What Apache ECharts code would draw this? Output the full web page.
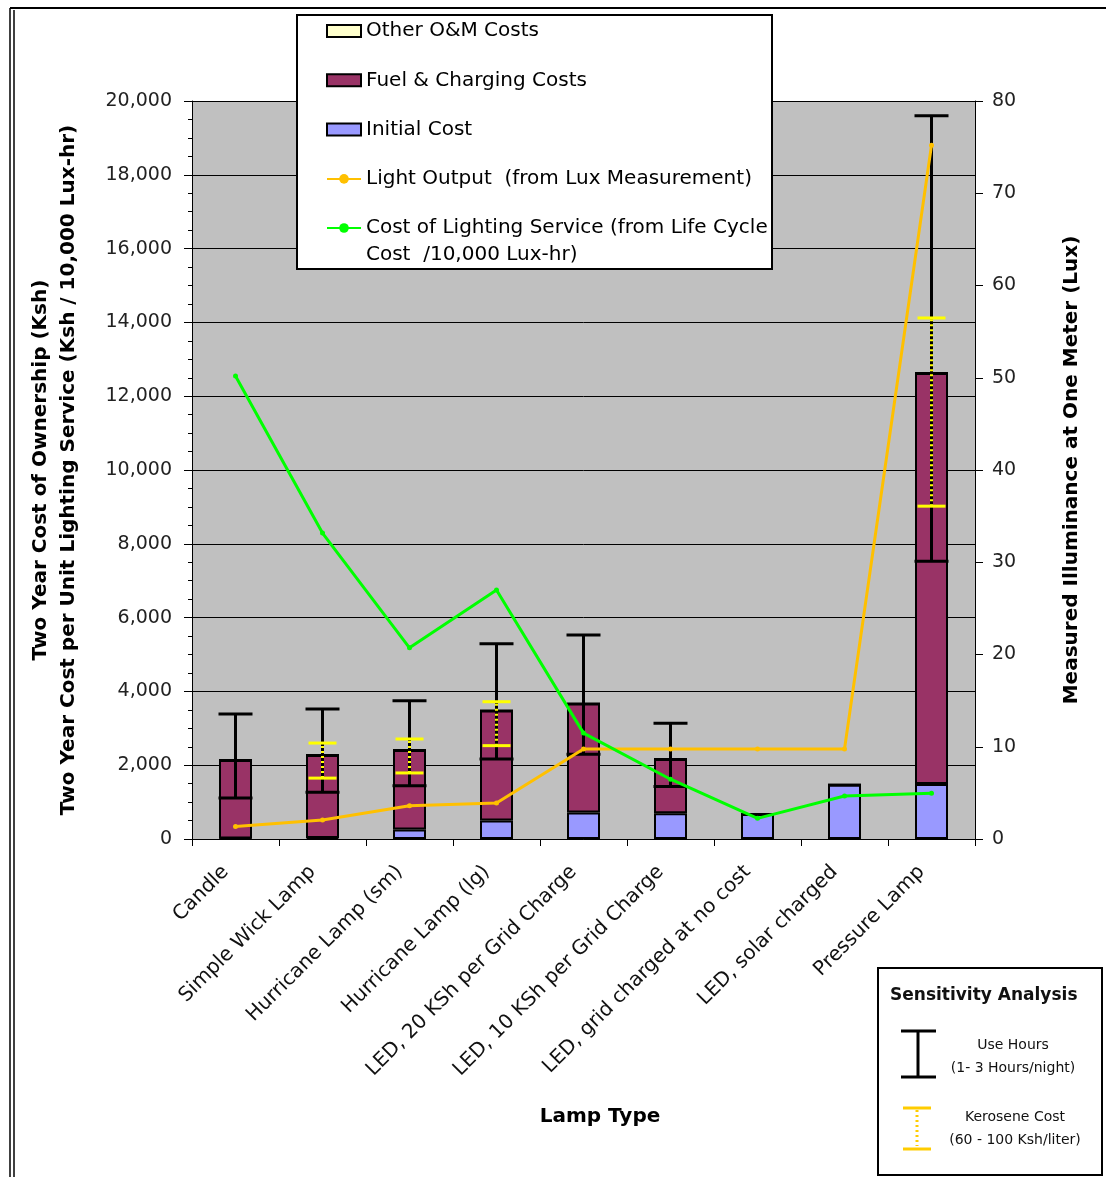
<!DOCTYPE html>
<html><head><meta charset="utf-8">
<script src="https://cdn.jsdelivr.net/npm/echarts@6/dist/echarts.min.js"></script>
<style>html,body{margin:0;padding:0;background:#fff}#c{width:1106px;height:1177px}</style>
</head><body><div id="c"></div>
<script>
const categories = ['Candle', 'Simple Wick Lamp', 'Hurricane Lamp (sm)', 'Hurricane Lamp (lg)',
  'LED, 20 KSh per Grid Charge', 'LED, 10 KSh per Grid Charge', 'LED, grid charged at no cost',
  'LED, solar charged', 'Pressure Lamp'];
const initialCost = [15, 30, 260, 500, 720, 700, 680, 1470, 1490];
const fuelChargingCost = [2125, 2245, 2150, 2980, 2955, 1470, 0, 0, 11140];
const otherOMCost = [0, 0, 0, 0, 0, 0, 0, 0, 0];
const lightOutputLux = [1.35, 2.05, 3.6, 3.9, 9.75, 9.75, 9.75, 9.75, 75.2];
const costLightingService = [12550, 8290, 5180, 6750, 2870, 1620, 560, 1165, 1240];
const useHoursLow = [1110, 1270, 1445, 2170, 2300, 1420, null, null, 7530];
const useHoursHigh = [3390, 3520, 3750, 5290, 5530, 3135, null, null, 19600];
const keroseneLow = [null, 1650, 1790, 2530, null, null, null, null, 9020];
const keroseneHigh = [null, 2600, 2710, 3720, null, null, null, null, 14120];
const leftTicks = { min: 0, max: 20000, interval: 2000 };
const rightTicks = { min: 0, max: 80, interval: 10 };

const NAME_OM = 'Other O&M Costs';
const NAME_FUEL = 'Fuel & Charging Costs';
const NAME_INIT = 'Initial Cost';
const NAME_LIGHT = 'Light Output  (from Lux Measurement)';
const NAME_COST = 'Cost of Lighting Service (from Life Cycle Cost  /10,000 Lux-hr)';

const FONT = 'DejaVu Sans';

function rangeData(lo, hi) {
  const out = [];
  categories.forEach((c, i) => { if (lo[i] != null && hi[i] != null) out.push([i, lo[i], hi[i]]); });
  return out;
}

function errorRenderer(color, capHalf, dotted) {
  return function (params, api) {
    const i = api.value(0);
    const p1 = api.coord([i, api.value(1)]);
    const p2 = api.coord([i, api.value(2)]);
    const st = { stroke: color, lineWidth: 3 };
    const vst = dotted ? { stroke: color, lineWidth: 3, lineDash: [2, 3] } : st;
    return {
      type: 'group',
      children: [
        { type: 'line', shape: { x1: p1[0], y1: p1[1], x2: p2[0], y2: p2[1] }, style: vst },
        { type: 'line', shape: { x1: p1[0] - capHalf, y1: p1[1], x2: p1[0] + capHalf, y2: p1[1] }, style: st },
        { type: 'line', shape: { x1: p2[0] - capHalf, y1: p2[1], x2: p2[0] + capHalf, y2: p2[1] }, style: st }
      ]
    };
  };
}

const barBase = { type: 'bar', stack: 'cost', barWidth: 33, yAxisIndex: 0 };

const option = {
  animation: false,
  backgroundColor: '#fff',
  grid: { left: 192, right: 131, top: 101, bottom: 338, containLabel: false, outerBoundsMode: 'none',
    show: true, backgroundColor: '#c0c0c0', borderWidth: 0 },
  xAxis: {
    type: 'category', data: categories, boundaryGap: true,
    axisLine: { show: true, lineStyle: { color: '#000', width: 1 } },
    axisTick: { show: true, length: 7, alignWithLabel: false, lineStyle: { color: '#000' } },
    axisLabel: { interval: 0, rotate: 45, margin: 20, padding: [0, 14, 0, 0], fontFamily: FONT, fontSize: 20, color: '#111' },
    name: 'Lamp Type', nameLocation: 'middle', nameGap: 268, nameMoveOverlap: false,
    nameTextStyle: { fontFamily: FONT, fontWeight: 'bold', fontSize: 20, color: '#000', padding: [0, 0, 0, 33] }
  },
  yAxis: [
    {
      type: 'value', position: 'left', min: leftTicks.min, max: leftTicks.max, interval: leftTicks.interval,
      axisLine: { show: true, lineStyle: { color: '#000', width: 1 } },
      axisTick: { show: true, length: 8, lineStyle: { color: '#000' } },
      minorTick: { show: true, splitNumber: 4, length: 4, lineStyle: { color: '#000' } },
      splitLine: { show: true, lineStyle: { color: '#000', width: 1 } },
      axisLabel: { margin: 20, fontFamily: FONT, fontSize: 19, color: '#222',
        formatter: v => v.toLocaleString('en-US') },
      name: 'Two Year Cost of Ownership (Ksh)\nTwo Year Cost per Unit Lighting Service (Ksh / 10,000 Lux-hr)',
      nameLocation: 'middle', nameRotate: 90, nameGap: 109, nameMoveOverlap: false,
      nameTextStyle: { fontFamily: FONT, fontWeight: 'bold', fontSize: 20, lineHeight: 28, color: '#000', align: 'center' }
    },
    {
      type: 'value', position: 'right', min: rightTicks.min, max: rightTicks.max, interval: rightTicks.interval,
      axisLine: { show: true, lineStyle: { color: '#000', width: 1 } },
      axisTick: { show: true, length: 8, lineStyle: { color: '#000' } },
      splitLine: { show: false },
      axisLabel: { margin: 17, fontFamily: FONT, fontSize: 19, color: '#222' },
      name: 'Measured Illuminance at One Meter (Lux)',
      nameLocation: 'middle', nameRotate: 90, nameGap: 87, nameMoveOverlap: false,
      nameTextStyle: { fontFamily: FONT, fontWeight: 'bold', fontSize: 20, color: '#000' }
    }
  ],
  legend: [
    {
      z: 20, left: 326, top: 21, padding: 0, orient: 'vertical', itemWidth: 34, itemHeight: 12, itemGap: 29.3,
      selectedMode: false,
      data: [{ name: NAME_OM, icon: 'rect' }, { name: NAME_FUEL, icon: 'rect' }, { name: NAME_INIT, icon: 'rect' }, NAME_LIGHT],
      textStyle: { fontFamily: FONT, fontSize: 20, lineHeight: 20, color: '#000' }
    },
    {
      z: 20, left: 326, top: 187.5, padding: 0, orient: 'vertical', itemWidth: 34, itemHeight: 12,
      selectedMode: false,
      data: [NAME_COST],
      formatter: () => '{a|Cost of Lighting Service (from Life Cycle}\n{a|Cost  /10,000 Lux-hr)}',
      textStyle: { fontFamily: FONT, fontSize: 20, lineHeight: 27, color: '#000', padding: [27, 0, 0, 0],
        rich: { a: { fontFamily: FONT, fontSize: 20, lineHeight: 27, color: '#000' } } }
    }
  ],
  graphic: [
    { type: 'rect', z: 10, shape: { x: 297, y: 15, width: 475, height: 254 },
      style: { fill: '#fff', stroke: '#000', lineWidth: 2 } },
    { type: 'line', z: 10, shape: { x1: 10, y1: 8, x2: 10, y2: 1177 }, style: { stroke: '#000', lineWidth: 1.5 } },
    { type: 'line', z: 10, shape: { x1: 14, y1: 10, x2: 14, y2: 1177 }, style: { stroke: '#000', lineWidth: 1.5 } },
    { type: 'line', z: 10, shape: { x1: 10, y1: 8, x2: 1106, y2: 8 }, style: { stroke: '#000', lineWidth: 2 } },
    { type: 'rect', z: 10, shape: { x: 878, y: 968, width: 224, height: 207 },
      style: { fill: '#fff', stroke: '#000', lineWidth: 2 } },
    { type: 'text', z: 11, x: 890, y: 996, style: { text: 'Sensitivity Analysis', font: 'bold 17px "DejaVu Sans"',
      fill: '#111', verticalAlign: 'middle' } },
    { type: 'line', z: 11, shape: { x1: 918, y1: 1031, x2: 918, y2: 1077 }, style: { stroke: '#000', lineWidth: 3 } },
    { type: 'line', z: 11, shape: { x1: 901, y1: 1031, x2: 936, y2: 1031 }, style: { stroke: '#000', lineWidth: 3 } },
    { type: 'line', z: 11, shape: { x1: 901, y1: 1077, x2: 936, y2: 1077 }, style: { stroke: '#000', lineWidth: 3 } },
    { type: 'text', z: 11, x: 1013, y: 1045, style: { text: 'Use Hours', font: '14px "DejaVu Sans"', fill: '#111',
      align: 'center', verticalAlign: 'middle' } },
    { type: 'text', z: 11, x: 1013, y: 1068, style: { text: '(1- 3 Hours/night)', font: '14px "DejaVu Sans"', fill: '#111',
      align: 'center', verticalAlign: 'middle' } },
    { type: 'line', z: 11, shape: { x1: 917, y1: 1110, x2: 917, y2: 1146 }, style: { stroke: '#ffcc00', lineWidth: 3, lineDash: [2, 3] } },
    { type: 'line', z: 11, shape: { x1: 903, y1: 1108, x2: 931, y2: 1108 }, style: { stroke: '#ffcc00', lineWidth: 3 } },
    { type: 'line', z: 11, shape: { x1: 903, y1: 1149, x2: 931, y2: 1149 }, style: { stroke: '#ffcc00', lineWidth: 3 } },
    { type: 'text', z: 11, x: 1015, y: 1117, style: { text: 'Kerosene Cost', font: '14px "DejaVu Sans"', fill: '#111',
      align: 'center', verticalAlign: 'middle' } },
    { type: 'text', z: 11, x: 1015, y: 1140, style: { text: '(60 - 100 Ksh/liter)', font: '14px "DejaVu Sans"', fill: '#111',
      align: 'center', verticalAlign: 'middle' } }
  ],
  series: [
    Object.assign({}, barBase, { name: NAME_INIT, data: initialCost,
      itemStyle: { color: '#9999ff', borderColor: '#000', borderWidth: 2 } }),
    Object.assign({}, barBase, { name: NAME_FUEL, data: fuelChargingCost,
      itemStyle: { color: '#993366', borderColor: '#000', borderWidth: 2 } }),
    Object.assign({}, barBase, { name: NAME_OM, data: otherOMCost,
      itemStyle: { color: '#ffffcc', borderColor: '#000', borderWidth: 2 } }),
    { type: 'custom', name: 'Use Hours', xAxisIndex: 0, yAxisIndex: 0, z: 3,
      renderItem: errorRenderer('#000', 17, false), encode: { x: 0, y: [1, 2] },
      data: rangeData(useHoursLow, useHoursHigh) },
    { type: 'custom', name: 'Kerosene Cost', xAxisIndex: 0, yAxisIndex: 0, z: 4,
      renderItem: errorRenderer('#ffff00', 14, true), encode: { x: 0, y: [1, 2] },
      data: rangeData(keroseneLow, keroseneHigh) },
    { type: 'line', name: NAME_LIGHT, yAxisIndex: 1, data: lightOutputLux, z: 5,
      symbol: 'circle', symbolSize: 5, showSymbol: true,
      lineStyle: { color: '#ffc000', width: 3 }, itemStyle: { color: '#ffc000' } },
    { type: 'line', name: NAME_COST, yAxisIndex: 0, data: costLightingService, z: 5,
      symbol: 'circle', symbolSize: 5, showSymbol: true,
      lineStyle: { color: '#00ff00', width: 3 }, itemStyle: { color: '#00ff00' } }
  ]
};

const chart = echarts.init(document.getElementById('c'), null, { renderer: 'canvas' });
chart.setOption(option);
</script>
</body></html>
